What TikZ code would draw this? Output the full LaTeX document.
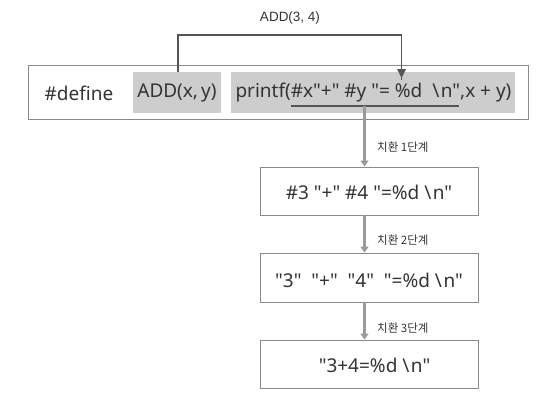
\documentclass[tikz,border=0pt]{standalone}
\usepackage{fontspec}
\setmainfont{Noto Sans}
\newfontfamily\codefont{Noto Sans}
\newfontfamily\kofont{Noto Sans CJK KR}
\newfontfamily\labfont{Liberation Sans}
\usetikzlibrary{arrows.meta}
\definecolor{boxline}{HTML}{8A8A8A}
\definecolor{shade}{HTML}{CDCDCD}
\definecolor{txt}{HTML}{333333}
\definecolor{bracket}{HTML}{555555}
\definecolor{flow}{HTML}{9A9A9A}
\tikzset{
  frame/.style={draw=boxline, line width=0.9pt, fill=white, inner sep=0pt},
  hilite/.style={fill=shade, draw=none, inner sep=0pt},
  code/.style={text=txt, font=\codefont\fontsize{19}{22}\selectfont, inner sep=0pt},
  steplabel/.style={text=txt, font=\kofont\fontsize{11.5}{13}\selectfont, anchor=west, inner sep=0pt},
  flowarrow/.style={draw=flow, line width=2.6pt, -{Triangle[length=6pt,width=8pt]}},
  brk/.style={draw=bracket, line width=1.3pt},
}
\newcommand{\bs}{\textbackslash\hspace{1.5pt}}
\begin{document}
\begin{tikzpicture}[x=1pt,y=-1pt]
\useasboundingbox (0,0) rectangle (556,407);
% top box
\node[frame, minimum width=500pt, minimum height=54pt] (top) at (278,92) {};
\node[hilite, minimum width=88pt, minimum height=41pt] (addbox) at (177,92.5) {};
\node[hilite, minimum width=284pt, minimum height=41pt] (prbox) at (373,92.5) {};
\node[code] (def) at (79,93) {\#define};
\node[code] (addt) at (177,93) {ADD(x,\,y)};
\node[code] (prt) at (373.5,93) {printf(\#x"+" \#y "= \%d \ \bs n",x + y)};
% bracket
\coordinate (b1) at (178,35);
\coordinate (b2) at (401.5,35);
\coordinate (btip) at (401.5,78);
\node[text=txt, font=\labfont\fontsize{13.5}{15}\selectfont, inner sep=0pt] (call) at (290,18) {ADD(3, 4)};
\draw[brk] (addbox.north -| b1) -- (b1) -- (b2) -- ([yshift=-2pt]btip);
\draw[fill=bracket, draw=none] (btip) -- ++(-4.5,-9) -- ++(9,0) -- cycle;
% underline
\coordinate (u1) at (291,106);
\coordinate (u2) at (459,106);
\draw[draw=bracket, line width=1.2pt] (u1) -- (u2);
\coordinate (ustart) at (364.5,106);
% lower boxes
\node[frame, minimum width=218pt, minimum height=48pt] (s1) at (369,191) {};
\node[code] at (369,192) {\#3 "+" \#4 "=\%d \bs n"};
\node[frame, minimum width=218pt, minimum height=49pt] (s2) at (369,277.5) {};
\node[code] at (369,280) {"3" \ "+" \ "4" \ "=\%d \bs n"};
\node[frame, minimum width=218pt, minimum height=48pt] (s3) at (369,364) {};
\node[code] at (374.5,365) {"3+4=\%d \bs n"};
% flow arrows
\draw[flowarrow] (ustart) -- (ustart |- s1.north);
\draw[flowarrow] (ustart |- s1.south) -- (ustart |- s2.north);
\draw[flowarrow] (ustart |- s2.south) -- (ustart |- s3.north);
\node[steplabel] at (377,147) {치환 1단계};
\node[steplabel] at (377,240) {치환 2단계};
\node[steplabel] at (377,328) {치환 3단계};
\end{tikzpicture}
\end{document}
